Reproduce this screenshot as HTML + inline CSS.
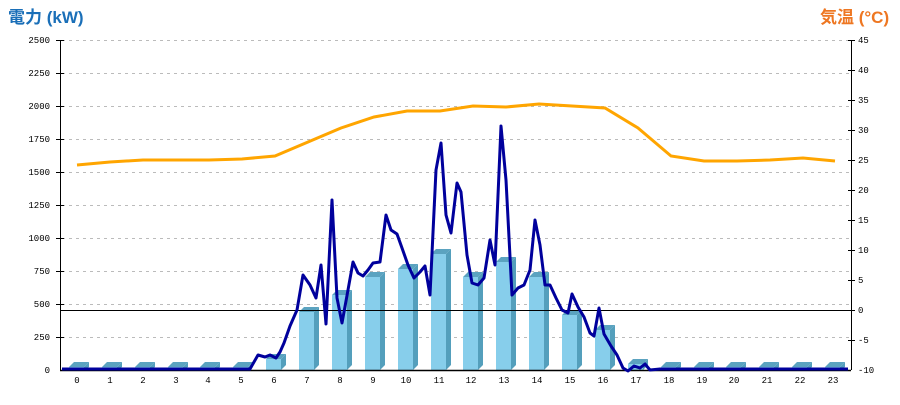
<!DOCTYPE html>
<html><head><meta charset="utf-8"><style>
body{margin:0;background:#fff;width:900px;height:400px;overflow:hidden}
text{font-family:"Liberation Mono",monospace;font-size:9px;fill:#000}
</style></head><body>
<svg width="900" height="400" xmlns="http://www.w3.org/2000/svg">
<defs>
<g id="b3"><polygon points="0,0 5,-5 20,-5 15,0" fill="#5ba3c0"/><polygon points="15,0 20,-5 20,0 15,3" fill="#549fbc"/><rect x="0" y="0" width="15" height="3" fill="#87ceeb"/></g>
</defs>
<text x="8" y="23" style="font-family:'Liberation Sans','Noto Sans CJK JP',sans-serif;font-size:17px;font-weight:bold;fill:#1a6fb8">電力 (kW)</text>
<text x="820" y="23" style="font-family:'Liberation Sans','Noto Sans CJK JP',sans-serif;font-size:17px;font-weight:bold;fill:#ee7722">気温 (°C)</text>
<g stroke="#bbb" stroke-dasharray="3,4" stroke-width="1">
<line x1="62" y1="40.5" x2="850" y2="40.5"/><line x1="62" y1="73.5" x2="850" y2="73.5"/><line x1="62" y1="106.5" x2="850" y2="106.5"/><line x1="62" y1="139.5" x2="850" y2="139.5"/><line x1="62" y1="172.5" x2="850" y2="172.5"/><line x1="62" y1="205.5" x2="850" y2="205.5"/><line x1="62" y1="238.5" x2="850" y2="238.5"/><line x1="62" y1="271.5" x2="850" y2="271.5"/><line x1="62" y1="304.5" x2="850" y2="304.5"/><line x1="62" y1="337.5" x2="850" y2="337.5"/>
</g>
<g text-anchor="end">
<text x="50" y="43">2500</text><text x="50" y="76">2250</text><text x="50" y="109">2000</text><text x="50" y="142">1750</text><text x="50" y="175">1500</text><text x="50" y="208">1250</text><text x="50" y="241">1000</text><text x="50" y="274">750</text><text x="50" y="307">500</text><text x="50" y="340">250</text><text x="50" y="373">0</text>
</g>
<g>
<text x="858" y="43">45</text><text x="858" y="73">40</text><text x="858" y="103">35</text><text x="858" y="133">30</text><text x="858" y="163">25</text><text x="858" y="193">20</text><text x="858" y="223">15</text><text x="858" y="253">10</text><text x="858" y="283">5</text><text x="858" y="313">0</text><text x="858" y="343">-5</text><text x="858" y="373">-10</text>
</g>
<g stroke="#000" stroke-width="1">
<line x1="60.5" y1="40" x2="60.5" y2="370"/><line x1="851.5" y1="40" x2="851.5" y2="370"/>
<line x1="56" y1="40.5" x2="64" y2="40.5"/><line x1="56" y1="73.5" x2="64" y2="73.5"/><line x1="56" y1="106.5" x2="64" y2="106.5"/><line x1="56" y1="139.5" x2="64" y2="139.5"/><line x1="56" y1="172.5" x2="64" y2="172.5"/><line x1="56" y1="205.5" x2="64" y2="205.5"/><line x1="56" y1="238.5" x2="64" y2="238.5"/><line x1="56" y1="271.5" x2="64" y2="271.5"/><line x1="56" y1="304.5" x2="64" y2="304.5"/><line x1="56" y1="337.5" x2="64" y2="337.5"/>
<line x1="848" y1="40.5" x2="855" y2="40.5"/><line x1="848" y1="70.5" x2="855" y2="70.5"/><line x1="848" y1="100.5" x2="855" y2="100.5"/><line x1="848" y1="130.5" x2="855" y2="130.5"/><line x1="848" y1="160.5" x2="855" y2="160.5"/><line x1="848" y1="190.5" x2="855" y2="190.5"/><line x1="848" y1="220.5" x2="855" y2="220.5"/><line x1="848" y1="250.5" x2="855" y2="250.5"/><line x1="848" y1="280.5" x2="855" y2="280.5"/><line x1="848" y1="310.5" x2="855" y2="310.5"/><line x1="848" y1="340.5" x2="855" y2="340.5"/>
</g>
<!-- small bars -->
<use href="#b3" x="69" y="367"/><use href="#b3" x="102" y="367"/><use href="#b3" x="135" y="367"/><use href="#b3" x="168" y="367"/><use href="#b3" x="200" y="367"/><use href="#b3" x="233" y="367"/>
<use href="#b3" x="661" y="367"/><use href="#b3" x="694" y="367"/><use href="#b3" x="726" y="367"/><use href="#b3" x="759" y="367"/><use href="#b3" x="792" y="367"/><use href="#b3" x="825" y="367"/>
<!-- tall bars: x, top -->
<g transform="translate(266,359)"><polygon points="0,0 5,-5 20,-5 15,0" fill="#5ba3c0"/><polygon points="15,0 20,-5 20,6 15,11" fill="#549fbc"/><rect width="15" height="11" fill="#87ceeb"/></g>
<g transform="translate(299,312)"><polygon points="0,0 5,-5 20,-5 15,0" fill="#5ba3c0"/><polygon points="15,0 20,-5 20,53 15,58" fill="#549fbc"/><rect width="15" height="58" fill="#87ceeb"/></g>
<g transform="translate(332,295)"><polygon points="0,0 5,-5 20,-5 15,0" fill="#5ba3c0"/><polygon points="15,0 20,-5 20,70 15,75" fill="#549fbc"/><rect width="15" height="75" fill="#87ceeb"/></g>
<g transform="translate(365,277)"><polygon points="0,0 5,-5 20,-5 15,0" fill="#5ba3c0"/><polygon points="15,0 20,-5 20,88 15,93" fill="#549fbc"/><rect width="15" height="93" fill="#87ceeb"/></g>
<g transform="translate(398,269)"><polygon points="0,0 5,-5 20,-5 15,0" fill="#5ba3c0"/><polygon points="15,0 20,-5 20,96 15,101" fill="#549fbc"/><rect width="15" height="101" fill="#87ceeb"/></g>
<g transform="translate(431,254)"><polygon points="0,0 5,-5 20,-5 15,0" fill="#5ba3c0"/><polygon points="15,0 20,-5 20,111 15,116" fill="#549fbc"/><rect width="15" height="116" fill="#87ceeb"/></g>
<g transform="translate(463,277)"><polygon points="0,0 5,-5 20,-5 15,0" fill="#5ba3c0"/><polygon points="15,0 20,-5 20,88 15,93" fill="#549fbc"/><rect width="15" height="93" fill="#87ceeb"/></g>
<g transform="translate(496,262)"><polygon points="0,0 5,-5 20,-5 15,0" fill="#5ba3c0"/><polygon points="15,0 20,-5 20,103 15,108" fill="#549fbc"/><rect width="15" height="108" fill="#87ceeb"/></g>
<g transform="translate(529,277)"><polygon points="0,0 5,-5 20,-5 15,0" fill="#5ba3c0"/><polygon points="15,0 20,-5 20,88 15,93" fill="#549fbc"/><rect width="15" height="93" fill="#87ceeb"/></g>
<g transform="translate(562,315)"><polygon points="0,0 5,-5 20,-5 15,0" fill="#5ba3c0"/><polygon points="15,0 20,-5 20,50 15,55" fill="#549fbc"/><rect width="15" height="55" fill="#87ceeb"/></g>
<g transform="translate(595,330)"><polygon points="0,0 5,-5 20,-5 15,0" fill="#5ba3c0"/><polygon points="15,0 20,-5 20,35 15,40" fill="#549fbc"/><rect width="15" height="40" fill="#87ceeb"/></g>
<g transform="translate(628,364)"><polygon points="0,0 5,-5 20,-5 15,0" fill="#5ba3c0"/><polygon points="15,0 20,-5 20,1 15,6" fill="#549fbc"/><rect width="15" height="6" fill="#87ceeb"/></g>
<line x1="60" y1="310.5" x2="851" y2="310.5" stroke="#000" stroke-width="1"/>
<line x1="60" y1="370.5" x2="851" y2="370.5" stroke="#000" stroke-width="1.5"/>
<g text-anchor="middle">
<text x="77" y="383">0</text><text x="110" y="383">1</text><text x="143" y="383">2</text><text x="176" y="383">3</text><text x="208" y="383">4</text><text x="241" y="383">5</text><text x="274" y="383">6</text><text x="307" y="383">7</text><text x="340" y="383">8</text><text x="373" y="383">9</text><text x="406" y="383">10</text><text x="439" y="383">11</text><text x="471" y="383">12</text><text x="504" y="383">13</text><text x="537" y="383">14</text><text x="570" y="383">15</text><text x="603" y="383">16</text><text x="636" y="383">17</text><text x="669" y="383">18</text><text x="702" y="383">19</text><text x="734" y="383">20</text><text x="767" y="383">21</text><text x="800" y="383">22</text><text x="833" y="383">23</text>
</g>
<polyline fill="none" stroke="#ffa500" stroke-width="3" points="77,165 110,162 143,160 176,160 209,160 242,159 275,156 308,142 341,128 374,117 407,111 440,111 473,106 506,107 539,104 572,106 605,108 638,128 671,156 704,161 737,161 770,160 803,158 835,161"/>
<polyline fill="none" stroke="#00009c" stroke-width="3" stroke-linejoin="round" points="62,369 250,369 258,355 265,357 270,355 276,358 280,352 284,343 290,326 297,310 303,275 310,285 316,298 321,265 326,324 332,200 337,298 342,323 348,290 353,262 358,273 363,276 368,270 373,263 380,262 386,215 391,230 397,234 402,248 408,265 414,278 420,272 425,266 430,295 436,170 441,143 446,215 451,233 457,183 461,192 467,255 472,283 478,285 484,278 490,240 495,265 501,126 506,180 512,295 518,288 524,285 530,270 535,220 540,245 545,285 550,285 556,298 562,310 568,313 572,294 578,307 584,317 590,333 594,336 599,308 604,334 611,346 617,355 623,368 628,371 634,366 640,368 645,364 650,370 660,369 848,369"/>
</svg>
</body></html>
